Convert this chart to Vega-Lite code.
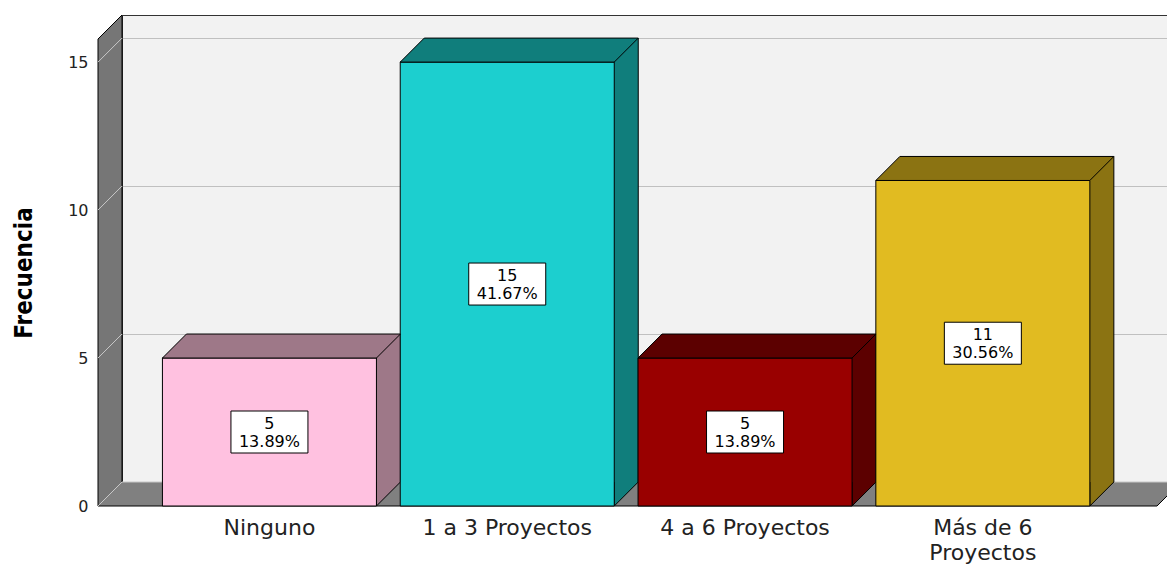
{
  "$schema": "https://vega.github.io/schema/vega-lite/v6.json",
  "width": 1045,
  "height": 467,
  "autosize": "none",
  "padding": {"left": 122, "top": 15, "right": 0, "bottom": 83},
  "background": "white",
  "config": {"view": {"fill": "#F2F2F2", "stroke": "#333333", "strokeWidth": 1}},
  "data": {"values": [
    {"categoria": "Ninguno", "frecuencia": 5, "porcentaje": 0.1389},
    {"categoria": "1 a 3 Proyectos", "frecuencia": 15, "porcentaje": 0.4167},
    {"categoria": "4 a 6 Proyectos", "frecuencia": 5, "porcentaje": 0.1389},
    {"categoria": "Más de 6 Proyectos", "frecuencia": 11, "porcentaje": 0.3056}
  ]},
  "resolve": {"scale": {"x": "independent"}, "axis": {"x": "independent"}},
  "layer": [
    {
      "layer": [
        {
          "data": {"values": [{"base": 0}]},
          "mark": {"type": "point", "shape": "M0,0 L-24,24 L-24,-443 L0,-467 Z", "size": 4, "filled": true, "fill": "#767676", "stroke": "black", "strokeWidth": 1, "opacity": 1},
          "encoding": {
            "x": {"datum": 0, "type": "quantitative", "scale": {"domain": [0, 1]}, "axis": null},
            "y": {"field": "base", "type": "quantitative"}
          }
        },
        {
          "data": {"values": [{"base": 0}]},
          "mark": {"type": "point", "shape": "M0,0 L-24,24 L1035,24 L1059,0", "size": 4, "filled": true, "fill": "#808080", "stroke": "black", "strokeWidth": 1, "opacity": 1},
          "encoding": {
            "x": {"datum": 0, "type": "quantitative", "scale": {"domain": [0, 1]}, "axis": null},
            "y": {"field": "base", "type": "quantitative"}
          }
        },
        {
          "data": {"values": [{"t": 0}, {"t": 5}, {"t": 10}, {"t": 15}]},
          "mark": {"type": "point", "shape": "M0,0 L-24,24", "size": 4, "filled": false, "stroke": "#C8C8C8", "strokeWidth": 1, "opacity": 1},
          "encoding": {
            "x": {"datum": 0, "type": "quantitative", "scale": {"domain": [0, 1]}, "axis": null},
            "y": {"field": "t", "type": "quantitative"}
          }
        },
        {
          "data": {"values": [{"base": 0}]},
          "mark": {"type": "rule", "stroke": "#C8C8C8", "strokeWidth": 1},
          "encoding": {
            "y": {"field": "base", "type": "quantitative"}
          }
        }
      ]
    },
    {
      "encoding": {
        "x": {
          "field": "categoria", "type": "nominal", "sort": null,
          "scale": {"type": "band", "paddingInner": 0.1, "paddingOuter": 0.2472, "align": 0.548},
          "axis": {
            "title": null, "domain": false, "ticks": false, "tickSize": 0,
            "labelOffset": -24, "labelPadding": 35, "labelAngle": 0,
            "labelFont": "DejaVu Sans", "labelFontSize": 22, "labelColor": "#222222",
            "labelLimit": 0, "labelOverlap": false, "labelLineHeight": 25, "labelBaseline": "top",
            "labelExpr": "datum.value == 'Más de 6 Proyectos' ? ['Más de 6', 'Proyectos'] : datum.label"
          }
        }
      },
      "layer": [
        {
          "mark": {"type": "bar"},
          "encoding": {
            "y": {
              "field": "frecuencia", "type": "quantitative",
              "scale": {"domain": [0, 15.78], "nice": false, "zero": true},
              "axis": {
                "title": "Frecuencia", "values": [0, 5, 10, 15], "grid": true, "gridColor": "#C0C0C0", "gridWidth": 1,
                "domain": false, "ticks": false, "tickSize": 0,
                "labelOffset": 24, "labelPadding": 34,
                "labelFont": "DejaVu Sans", "labelFontSize": 16, "labelColor": "#222222",
                "titleFont": "Liberation Sans Narrow, DejaVu Sans Condensed, Liberation Sans, sans-serif",
                "titleFontWeight": "bold", "titleFontSize": 24, "titleColor": "black",
                "titleX": -98, "titleY": 257.5, "titleAngle": 270, "titleBaseline": "middle", "titleAlign": "center"
              }
            },
            "color": {
              "field": "categoria", "type": "nominal",
              "scale": {"domain": ["Ninguno", "1 a 3 Proyectos", "4 a 6 Proyectos", "Más de 6 Proyectos"], "range": ["#9E7888", "#107E7C", "#5C0000", "#8B7312"]},
              "legend": null
            }
          }
        },
        {
          "mark": {"type": "rule", "xOffset": 107, "stroke": "black", "strokeWidth": 1},
          "encoding": {
            "y": {"field": "frecuencia", "type": "quantitative"},
            "y2": {"datum": 0}
          }
        },
        {
          "mark": {"type": "point", "shape": "M83,0 L83,24 L107,0", "size": 4, "filled": true, "stroke": "black", "strokeWidth": 1, "opacity": 1},
          "encoding": {
            "y": {"datum": 0, "type": "quantitative"},
            "color": {"field": "categoria", "type": "nominal", "legend": null}
          }
        },
        {
          "mark": {"type": "bar", "xOffset": -24, "yOffset": 24, "y2Offset": 24, "stroke": "black", "strokeWidth": 1},
          "encoding": {
            "y": {"field": "frecuencia", "type": "quantitative"},
            "fill": {
              "field": "categoria", "type": "nominal",
              "scale": {"domain": ["Ninguno", "1 a 3 Proyectos", "4 a 6 Proyectos", "Más de 6 Proyectos"], "range": ["#FFC1E0", "#1CCFCF", "#990000", "#E1BB21"]},
              "legend": null
            }
          }
        },
        {
          "mark": {"type": "point", "shape": "M-107,0 L107,0 L83,24 L-131,24 Z", "size": 4, "filled": true, "stroke": "black", "strokeWidth": 1, "opacity": 1},
          "encoding": {
            "y": {"field": "frecuencia", "type": "quantitative"},
            "color": {"field": "categoria", "type": "nominal", "legend": null}
          }
        },
        {
          "transform": [{"calculate": "datum.frecuencia / 2", "as": "mitad"}],
          "mark": {"type": "point", "shape": "M-38.5,-21 L38.5,-21 L38.5,21 L-38.5,21 Z", "size": 4, "filled": true, "fill": "white", "stroke": "black", "strokeWidth": 1, "opacity": 1, "xOffset": -24, "yOffset": 24},
          "encoding": {
            "y": {"field": "mitad", "type": "quantitative"}
          }
        },
        {
          "transform": [{"calculate": "datum.frecuencia / 2", "as": "mitad"}],
          "mark": {"type": "text", "font": "DejaVu Sans", "fontSize": 16, "color": "black", "baseline": "middle", "align": "center", "xOffset": -24, "yOffset": 24, "dy": -8},
          "encoding": {
            "y": {"field": "mitad", "type": "quantitative"},
            "text": {"field": "frecuencia", "type": "quantitative", "format": "d"}
          }
        },
        {
          "transform": [{"calculate": "datum.frecuencia / 2", "as": "mitad"}],
          "mark": {"type": "text", "font": "DejaVu Sans", "fontSize": 16, "color": "black", "baseline": "middle", "align": "center", "xOffset": -24, "yOffset": 24, "dy": 9.5},
          "encoding": {
            "y": {"field": "mitad", "type": "quantitative"},
            "text": {"field": "porcentaje", "type": "quantitative", "format": ".2%"}
          }
        }
      ]
    }
  ]
}
